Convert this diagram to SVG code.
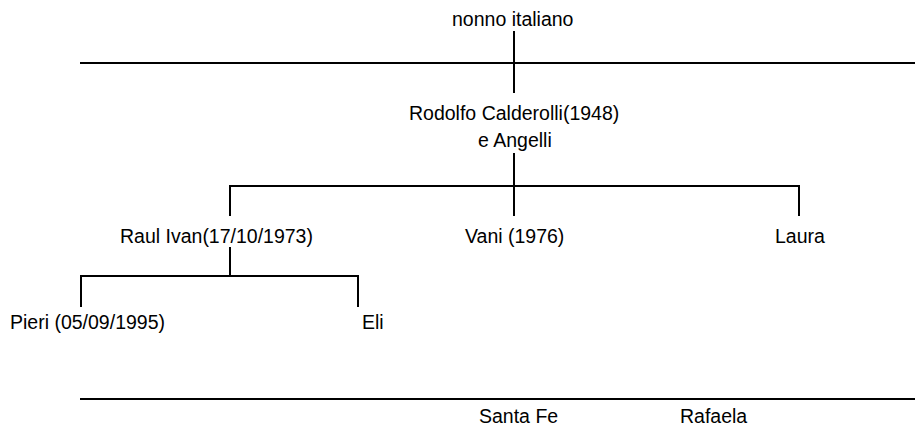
<svg xmlns="http://www.w3.org/2000/svg" width="915" height="430" viewBox="0 0 915 430">
<style>
text { font-family: "Liberation Sans", Arial, sans-serif; font-size: 19.5px; fill: #000; }
.ln { stroke: #000; stroke-width: 2; fill: none; }
</style>
<rect width="915" height="430" fill="#fff"/>
<g id="connectors">
  <line class="ln" x1="80" y1="63" x2="915" y2="63"/>
  <line class="ln" x1="80" y1="399" x2="915" y2="399"/>
  <line class="ln" x1="514" y1="31" x2="514" y2="93"/>
  <line class="ln" x1="514" y1="153" x2="514" y2="216"/>
  <polyline class="ln" points="230,216 230,186 799,186 799,216"/>
  <line class="ln" x1="230" y1="247" x2="230" y2="276"/>
  <polyline class="ln" points="81,307 81,276 358,276 358,307"/>
</g>
<g id="nonno"><text x="452" y="26">nonno italiano</text></g>
<g id="rodolfo"><text x="409" y="120">Rodolfo Calderolli(1948)</text><text x="478" y="147">e Angelli</text></g>
<g id="raul"><text x="120" y="243">Raul Ivan(17/10/1973)</text></g>
<g id="vani"><text x="465" y="243">Vani (1976)</text></g>
<g id="laura"><text x="775" y="243">Laura</text></g>
<g id="pieri"><text x="10" y="329">Pieri (05/09/1995)</text></g>
<g id="eli"><text x="362" y="329">Eli</text></g>
<g id="santafe"><text x="479" y="423">Santa Fe</text></g>
<g id="rafaela"><text x="680" y="423">Rafaela</text></g>
</svg>
